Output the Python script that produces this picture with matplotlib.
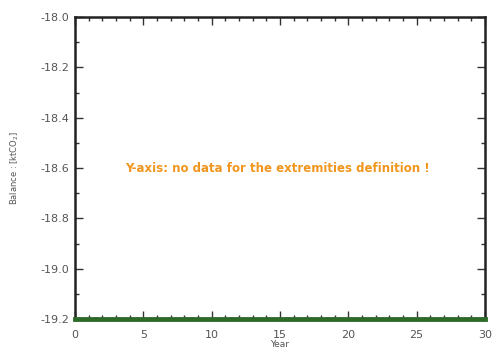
import matplotlib
matplotlib.use("Agg")
import matplotlib.pyplot as plt
from matplotlib.ticker import MultipleLocator

years = [0, 5, 10, 15, 20, 25, 30]
balance = [-19.2, -19.2, -19.2, -19.2, -19.2, -19.2, -19.2]
y_limits = (-19.2, -18.0)
x_limits = (0, 30)
message = "Y-axis: no data for the extremities definition !"

fig = plt.figure(figsize=(4.94, 3.52), dpi=100)
ax = fig.add_axes([75 / 494, 1 - 319 / 352, (485 - 75) / 494, (319 - 17) / 352])

ax.plot(years, balance, color="#2e6b2a", linewidth=3.5, clip_on=False, zorder=3)

ax.set_xlim(*x_limits)
ax.set_ylim(*y_limits)
ax.xaxis.set_major_locator(MultipleLocator(5))
ax.xaxis.set_minor_locator(MultipleLocator(1))
ax.yaxis.set_major_locator(MultipleLocator(0.2))
ax.yaxis.set_minor_locator(MultipleLocator(0.1))
ax.yaxis.set_major_formatter(plt.FuncFormatter(lambda v, p: f"{v:.1f}"))
ax.tick_params(which="both", direction="in", top=True, right=True,
               labelsize=8, labelcolor="#555555", color="#333333", width=1.0)
ax.tick_params(which="major", length=6, pad=4)
ax.tick_params(which="minor", length=3)
ax.tick_params(axis="x", which="major", pad=8)
for s in ax.spines.values():
    s.set_linewidth(1.8)
    s.set_color("#222222")

ax.set_xlabel("Year", fontsize=6.5, color="#555555", labelpad=0)
ax.set_ylabel("Balance : [ktCO$_2$]", fontsize=6, color="#555555", labelpad=14)

ax.text(14.8, -18.6, message, color="#f0961e", fontsize=8.5, fontweight="bold",
        ha="center", va="center")

fig.savefig("out.png", dpi=100)
